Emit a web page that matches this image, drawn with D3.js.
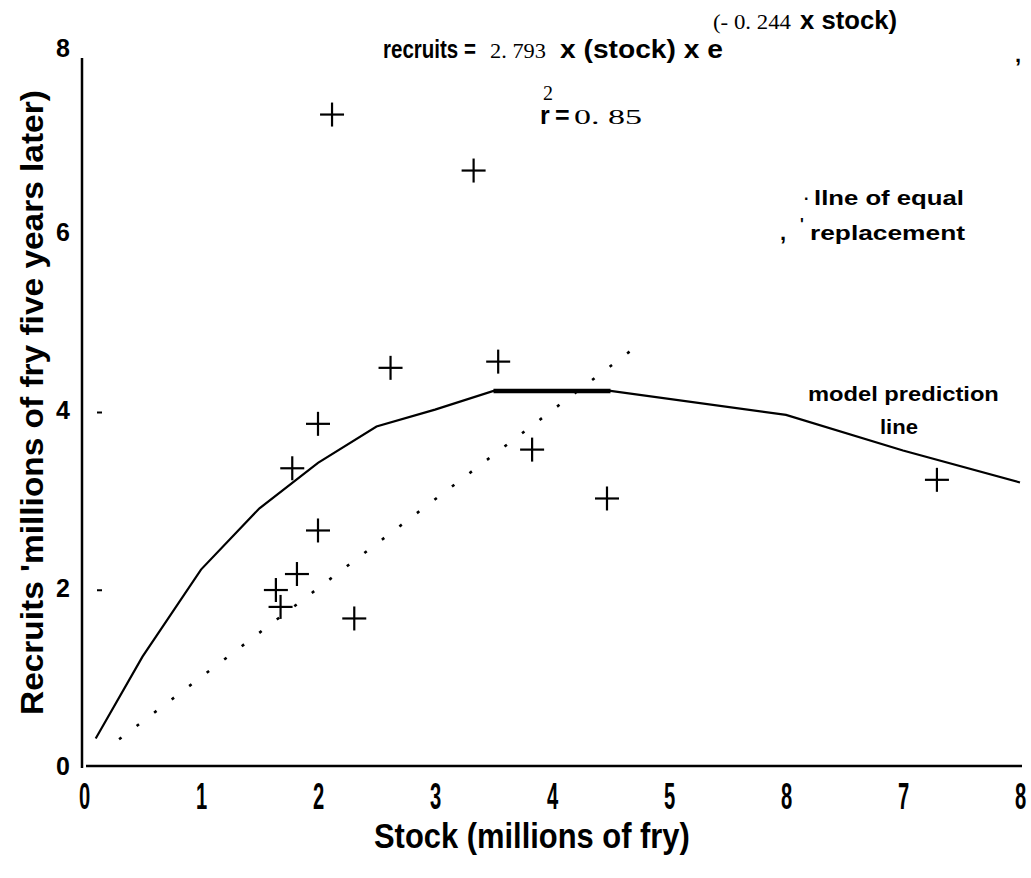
<html>
  <head>
    <style>
      body { margin: 0; background: #fff; }
      .sans { font-family: "Liberation Sans", Arial, Helvetica, sans-serif; font-weight: bold; }
      .serif { font-family: "Liberation Serif", "Times New Roman", serif; }
    </style>
    <script src="https://cdnjs.cloudflare.com/ajax/libs/d3/7.8.5/d3.min.js" type="text/javascript"></script>
  </head>
  <body>
    <script>
      // Observed stock / recruit pairs (millions of fry)
      var stockObs    = [2.12, 3.33, 2.62, 3.54, 3.83, 4.47, 2.00, 1.78, 2.00, 1.82, 1.64, 1.68, 2.31, 7.29];
      var recruitsObs = [7.33, 6.70, 4.48, 4.55, 3.56, 3.01, 3.85, 3.35, 2.65, 2.16, 1.98, 1.79, 1.66, 3.22];
      // Model prediction line
      var modelStock    = [0.1, 0.5, 1, 1.5, 2, 2.5, 3, 3.5, 4.5, 6, 7, 8];
      var modelRecruits = [0.31, 1.23, 2.21, 2.90, 3.41, 3.82, 4.01, 4.22, 4.22, 3.95, 3.55, 3.19];
      // line of equal replacement (recruits = stock)
      var equalStock = [0.3, 4.67];
      // ticks
      var xTickValues = [0, 1, 2, 3, 4, 5, 6, 7, 8];
      var xTickLabels = ["0", "1", "2", "3", "4", "5", "8", "7", "8"];
      var yTickValues = [0, 2, 4, 6, 8];
      var yTickLabels = ["0", "2", "4", "6", "8"];
      var yDashValues = [2, 4];

      var svg = d3.select("body").append("svg")
        .attr("width", 1031)
        .attr("height", 878);

      var x = d3.scaleLinear().domain([0, 8]).range([84, 1020]);
      var y = d3.scaleLinear().domain([0, 8]).range([766, 55]);

      // axis lines
      svg.append("line").attr("x1", 82).attr("x2", 82).attr("y1", 58).attr("y2", 768)
        .attr("stroke", "#000").attr("stroke-width", 2.5);
      svg.append("line").attr("x1", 86).attr("x2", 1022).attr("y1", y(0)).attr("y2", y(0))
        .attr("stroke", "#000").attr("stroke-width", 2.5);

      // x tick labels
      var xAxis = svg.append("g")
        .attr("transform", "translate(0," + y(0) + ")")
        .call(d3.axisBottom(x).tickValues(xTickValues)
          .tickFormat(function(d, i) { return xTickLabels[i]; })
          .tickSize(0).tickPadding(17));
      xAxis.select(".domain").remove();
      xAxis.selectAll("text")
        .attr("class", "sans")
        .style("font-size", "36px")
        .attr("transform", "scale(0.56,1)");

      // y tick labels
      var yAxis = svg.append("g")
        .attr("transform", "translate(82,0)")
        .call(d3.axisLeft(y).tickValues(yTickValues)
          .tickFormat(function(d, i) { return yTickLabels[i]; })
          .tickSize(0).tickPadding(19));
      yAxis.select(".domain").remove();
      yAxis.selectAll("text")
        .attr("class", "sans")
        .attr("text-anchor", "middle")
        .style("font-size", "25px");
      yAxis.selectAll(".tick").filter(function(d) { return d === 8; })
        .select("text").attr("dy", "0.05em");

      // small dashes
      svg.selectAll(".dash").data(yDashValues).enter().append("line")
        .attr("x1", 97).attr("x2", 102)
        .attr("y1", function(d) { return y(d) + 2; })
        .attr("y2", function(d) { return y(d) + 2; })
        .attr("stroke", "#000").attr("stroke-width", 2);

      // dotted line of equal replacement
      svg.append("line")
        .attr("x1", x(equalStock[0])).attr("y1", y(equalStock[0]))
        .attr("x2", x(equalStock[1])).attr("y2", y(equalStock[1]))
        .attr("stroke", "#000").attr("stroke-width", 2.6)
        .attr("stroke-dasharray", "3,19");

      // model prediction line
      var model = modelStock.map(function(s, i) { return [s, modelRecruits[i]]; });
      var line = d3.line().x(function(d) { return x(d[0]); }).y(function(d) { return y(d[1]); });
      svg.append("path").datum(model).attr("d", line)
        .attr("fill", "none").attr("stroke", "#000").attr("stroke-width", 2.2);
      // heavier plateau segment
      svg.append("path").datum(model.slice(7, 9)).attr("d", line)
        .attr("fill", "none").attr("stroke", "#000").attr("stroke-width", 4.5);

      // observations as crosses
      var pts = svg.selectAll(".pt").data(stockObs).enter().append("g")
        .attr("transform", function(d, i) { return "translate(" + x(d) + "," + y(recruitsObs[i]) + ")"; });
      pts.append("line").attr("x1", -12).attr("x2", 12).attr("y1", 0).attr("y2", 0)
        .attr("stroke", "#000").attr("stroke-width", 2.2);
      pts.append("line").attr("x1", 0).attr("x2", 0).attr("y1", -12).attr("y2", 12)
        .attr("stroke", "#000").attr("stroke-width", 2.2);

      // text squeezed to a given width with a horizontal scale
      function put(txt, cls, x0, y0, size, len) {
        var t = svg.append("text").attr("class", cls)
          .style("font-size", size + "px").text(txt);
        var sx = 1;
        if (len) sx = len / t.node().getComputedTextLength();
        t.attr("transform", "translate(" + x0 + "," + y0 + ") scale(" + sx + ",1)");
        return t;
      }

      // axis titles
      put("Stock (millions of fry)", "sans", 374, 848, 35, 316);
      svg.append("g").attr("transform", "translate(43,715) rotate(-90)")
        .append("text").attr("class", "sans")
        .style("font-size", "32px")
        .text("Recruits 'millions of fry five years later)")
        .attr("transform", function() {
          return "scale(" + (625 / this.getComputedTextLength()) + ",1)";
        });

      // equation
      put("recruits =", "sans", 383, 58, 25, 93);
      put("2. 793", "serif", 490, 58, 22, 56);
      put("x (stock) x e", "sans", 560, 58, 25, 163);
      put("(- 0. 244", "serif", 713, 29, 22, 78);
      put("x stock)", "sans", 800, 29, 25, 97);
      put(",", "sans", 1015, 62, 22);
      put("2", "serif", 543, 100, 20);
      put("r", "sans", 540, 124, 25);
      put("=", "sans", 555, 124, 25);
      put("0. 85", "serif", 574, 124, 22, 68);

      // annotations
      put(".", "sans", 804, 200, 16);
      put("llne of equal", "sans", 814, 205, 21, 150);
      put(",", "sans", 780, 240, 22);
      put("'", "sans", 800, 230, 16);
      put("replacement", "sans", 810, 240, 21, 155);
      put("model  prediction", "sans", 808, 401, 21, 191);
      put("line", "sans", 880, 434, 21, 38);
    </script>
  </body>
</html>
